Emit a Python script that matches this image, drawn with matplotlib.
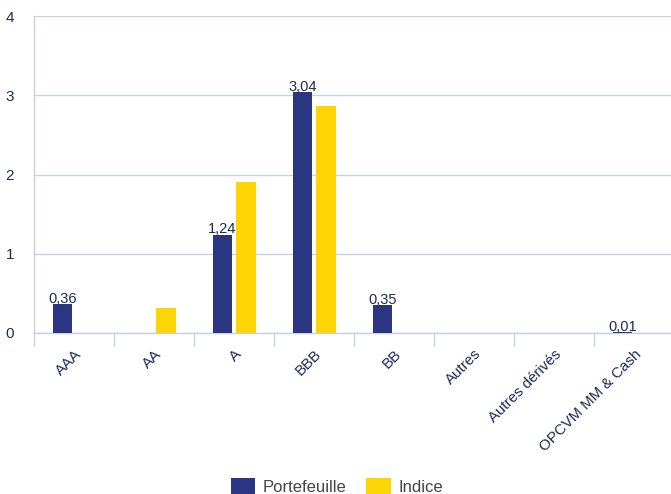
import matplotlib
matplotlib.use("Agg")
import matplotlib.pyplot as plt
import numpy as np
from matplotlib.patches import Patch

plt.rcParams['font.family'] = ['Liberation Sans', 'DejaVu Sans']

categories = ["AAA", "AA", "A", "BBB", "BB", "Autres", "Autres dérivés", "OPCVM MM & Cash"]
portefeuille = [0.36, 0.0, 1.24, 3.04, 0.35, 0.0, 0.0, 0.01]
indice = [0.0, 0.32, 1.91, 2.86, 0.0, 0.0, 0.0, 0.0]
labels_port = ["0,36", None, "1,24", "3,04", "0,35", None, None, "0,01"]
yticks = [0, 1, 2, 3, 4]

navy = "#2b3683"
yellow = "#fdd404"
grid = "#c5d2e6"
txt = "#1e2a55"

fig = plt.figure(figsize=(6.71, 4.94), dpi=100)
ax = fig.add_axes([34/671, 161/494, 640/671, 317/494])

x = np.arange(len(categories))
w = 0.24
ax.bar(x - 0.145, portefeuille, w, color=navy, zorder=3)
ax.bar(x + 0.15, indice, w, color=yellow, zorder=3)

for xi, v, lab in zip(x, portefeuille, labels_port):
    if lab:
        ax.text(xi - 0.145, v - 0.02, lab, ha='center', va='bottom', fontsize=10.5, color=txt, zorder=4)

ax.set_xlim(-0.5, 7.5)
ax.set_ylim(0, 4)
ax.set_yticks(yticks)
ax.set_yticklabels([str(t) for t in yticks], fontsize=11, color=txt)
ax.yaxis.grid(True, color=grid, linewidth=1)
ax.set_axisbelow(True)
for lab in ax.get_yticklabels():
    lab.set_horizontalalignment('left')
ax.tick_params(axis='y', length=0, pad=20.5)

ax.set_xticks(x)
ax.set_xticklabels(categories, rotation=45, ha='right', rotation_mode='anchor', fontsize=10.8, color=txt)
ax.tick_params(axis='x', which='major', length=0, pad=10)
ax.set_xticks(np.arange(-0.5, 8.0, 1.0), minor=True)
ax.tick_params(axis='x', which='minor', length=9, color=grid, width=1)

for s in ['top', 'right']:
    ax.spines[s].set_visible(False)
for s in ['left', 'bottom']:
    ax.spines[s].set_color(grid)
    ax.spines[s].set_linewidth(1)

handles = [Patch(facecolor=navy, label="Portefeuille"), Patch(facecolor=yellow, label="Indice")]
fig.legend(handles=handles, loc='lower center', bbox_to_anchor=(0.502, -0.018), ncol=2, frameon=False,
           fontsize=12, handlelength=1.45, handleheight=1.1, columnspacing=1.2, handletextpad=0.45,
           labelcolor="#444444", borderpad=0.0)

fig.savefig("out.png", dpi=100)
